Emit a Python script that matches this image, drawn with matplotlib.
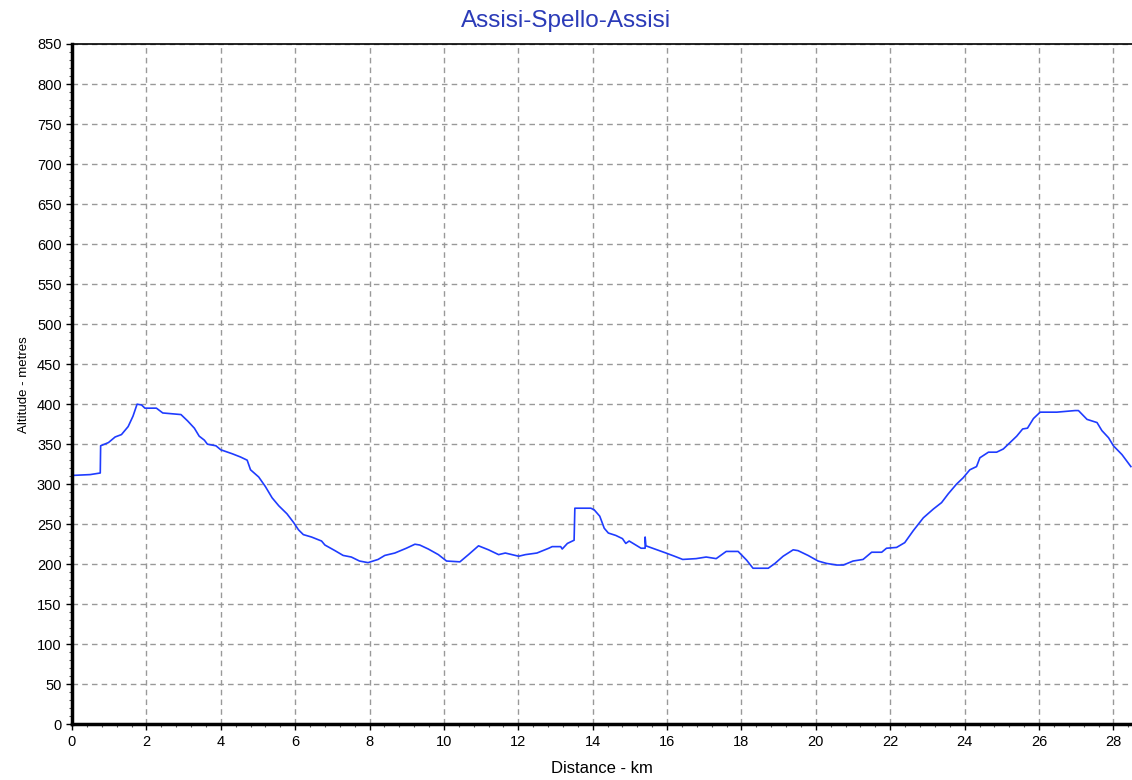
import numpy as np
import matplotlib
matplotlib.use("Agg")
import matplotlib.pyplot as plt
from matplotlib.ticker import MultipleLocator

plt.rcParams['font.family'] = ['Liberation Sans', 'DejaVu Sans']

# distance (km) and altitude (m)
dist = [0.0, 0.03, 0.49, 0.76, 0.77, 0.98, 1.16, 1.33, 1.51, 1.64, 1.75, 1.87, 1.96,
        2.27, 2.44, 2.93, 3.11, 3.29, 3.42, 3.56, 3.64, 3.87, 4.0, 4.31, 4.53, 4.71,
        4.8, 5.02, 5.2, 5.38, 5.56, 5.78, 5.96, 6.09, 6.22, 6.44, 6.71, 6.8, 7.07,
        7.29, 7.51, 7.73, 7.96, 8.23, 8.41, 8.68, 8.99, 9.22, 9.35, 9.58, 9.85,
        10.07, 10.43, 10.66, 10.93, 11.2, 11.47, 11.65, 12.01, 12.19, 12.5, 12.82,
        12.91, 13.14, 13.18, 13.32, 13.5, 13.52, 13.95, 14.04, 14.19, 14.31, 14.42,
        14.62, 14.8, 14.89, 14.98, 15.3, 15.41, 15.41, 15.43, 15.61, 15.97, 16.2,
        16.42, 16.78, 17.05, 17.32, 17.59, 17.91, 18.14, 18.31, 18.72, 18.9, 19.12,
        19.39, 19.52, 19.79, 20.06, 20.29, 20.56, 20.74, 21.0, 21.27, 21.5, 21.77,
        21.9, 22.17, 22.39, 22.62, 22.89, 23.16, 23.38, 23.56, 23.78, 23.96, 24.14,
        24.32, 24.41, 24.64, 24.86, 25.04, 25.22, 25.4, 25.56, 25.69, 25.85, 26.03,
        26.48, 26.97, 27.06, 27.29, 27.56, 27.69, 27.87, 28.0, 28.23, 28.47]
alt = [311, 311, 312, 314, 348, 352, 359, 362, 372, 385, 400, 399, 395,
       395, 389, 387, 379, 370, 360, 355, 350, 348, 343, 338, 334, 330,
       318, 309, 297, 283, 273, 263, 252, 243, 237, 234, 229, 224, 217,
       211, 209, 204, 202, 206, 211, 214, 220, 225, 224, 219, 212,
       204, 203, 212, 223, 218, 212, 214, 210, 212, 214, 220,
       222, 222, 219, 226, 230, 270, 270, 268, 260, 245, 239,
       236, 232, 226, 229, 220, 220, 234, 223, 220, 214, 210,
       206, 207, 209, 207, 216, 216, 205, 195, 195, 201, 210,
       218, 217, 211, 204, 201, 199, 199, 204, 206, 215, 215,
       220, 221, 227, 242, 258, 269, 277, 288, 300, 308, 318,
       322, 333, 340, 340, 344, 352, 360, 369, 370, 382, 390,
       390, 392, 392, 381, 377, 367, 358, 348, 337, 322]

fig = plt.figure(figsize=(11.32, 7.8), dpi=100)
ax = fig.add_axes([0.0636, 0.0714, 0.9364, 0.8722])

ax.plot(dist, alt, color='#1f3cff', lw=1.2)

ax.set_xlim(0, 28.5)
ax.set_ylim(0, 850)
ax.xaxis.set_major_locator(MultipleLocator(2))
ax.xaxis.set_minor_locator(MultipleLocator(0.4))
ax.yaxis.set_major_locator(MultipleLocator(50))
ax.yaxis.set_minor_locator(MultipleLocator(10))

ax.grid(True, which='major', color='#999999', linestyle=(0, (4, 3)), lw=1.0)
ax.tick_params(axis='both', which='major', labelsize=10.5, length=4, width=1, direction='out')
ax.tick_params(axis='both', which='minor', length=2.5, width=0.8, direction='out', color='#555555')

ax.spines['left'].set_linewidth(2.5)
ax.spines['bottom'].set_linewidth(2.5)
ax.spines['top'].set_linewidth(1.2)
ax.spines['right'].set_visible(False)

# title sits at the centre of the figure, not the axes
fig.text(0.5, 0.973, 'Assisi-Spello-Assisi', color='#2b3bb8', fontsize=17.5,
         ha='center', va='center')
ax.set_xlabel('Distance - km', fontsize=12, labelpad=9)
ax.set_ylabel('Altitude - metres', fontsize=9.5, labelpad=5)

fig.savefig('out.png', dpi=100)
